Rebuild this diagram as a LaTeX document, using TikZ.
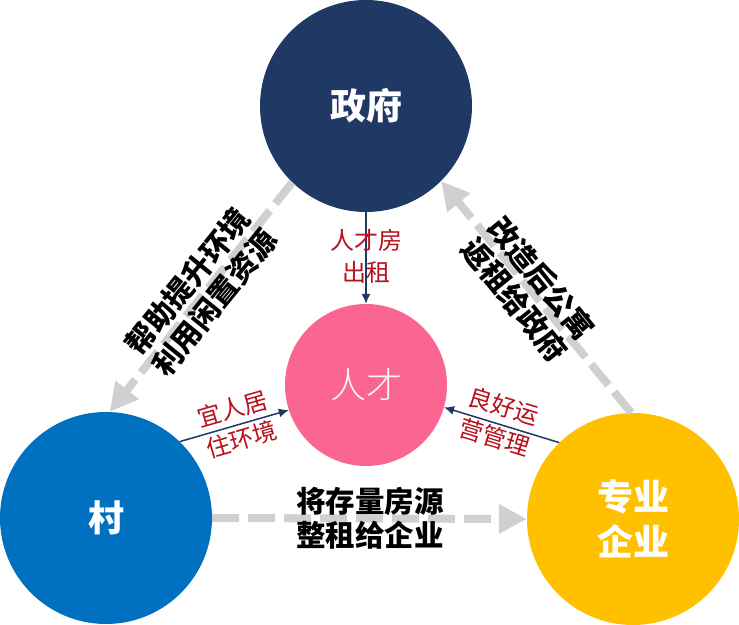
\documentclass[tikz,border=0pt]{standalone}
\usepackage{fontspec}
\setmainfont{Noto Sans CJK SC}
\IfFontExistsTF{Noto Sans CJK SC Light}
  {\newfontfamily\lightcjk{Noto Sans CJK SC Light}}
  {\newfontfamily\lightcjk{Noto Sans CJK SC}}
\usetikzlibrary{arrows.meta}
\definecolor{govc}{HTML}{1F3864}
\definecolor{rcc}{HTML}{FA6591}
\definecolor{cunc}{HTML}{0070C0}
\definecolor{qyc}{HTML}{FFC000}
\definecolor{grayc}{HTML}{D0D0D0}
\definecolor{redc}{HTML}{B8101C}
\definecolor{navyc}{HTML}{1F3864}
\begin{document}
\begin{tikzpicture}[x=1pt,y=1pt,
  bigc/.style={circle, minimum size=212pt, inner sep=0pt, text=white, align=center,
    font=\fontsize{36}{45}\selectfont\bfseries},
  graya/.style={draw=grayc, line width=8pt, dash pattern=on 27pt off 9pt,
    -{Triangle[length=28pt,width=28pt]}},
  navya/.style={draw=navyc, line width=1.5pt, -{Latex[length=10pt,width=9pt]}},
  blacklbl/.style={align=center, text=black, font=\fontsize{29.5}{34}\selectfont\bfseries},
  redlbl/.style={align=center, text=redc, font=\fontsize{24}{32}\selectfont}]
\useasboundingbox (0,0) rectangle (739,624);
\fill[white] (0,0) rectangle (739,624);
\clip (0,0) rectangle (739,624);
% circles
\node[bigc, fill=govc] (gov) at (366,518) {政府};
\node[bigc, fill=cunc] (cun) at (106,106) {村};
\node[bigc, fill=qyc] (qy) at (633,105) {专业\\企业};
\node[circle, minimum size=162pt, inner sep=0pt, fill=rcc, text=white!92!rcc,
  font=\fontsize{36}{40}\selectfont\lightcjk] (rc) at (366,239) {人才};
% gray dashed arrows
\draw[graya] (gov.226) -- (cun.88);
\draw[graya] (qy.91) -- (gov.315);
\draw[graya] (cun.0) -- (qy.180);
% navy arrows
\draw[navya] (gov.south) -- (rc.north);
\draw[navya] (cun.46) -- (rc.198);
\draw[navya] (qy.134) -- (rc.344);
% labels
\node[blacklbl, rotate=51] (l1) at (201,332) {帮助提升环境\\利用闲置资源};
\node[blacklbl, rotate=-51] (l2) at (528,335) {改造后公寓\\返租给政府};
\node[blacklbl] (l3) at (370,106) {将存量房源\\整租给企业};
\node[redlbl] (l4) at (366,368) {人才房\\出租};
\node[redlbl, rotate=16] (l5) at (237,200) {宜人居\\住环境};
\node[redlbl, rotate=-17] (l6) at (499,202) {良好运\\营管理};
\end{tikzpicture}
\end{document}
